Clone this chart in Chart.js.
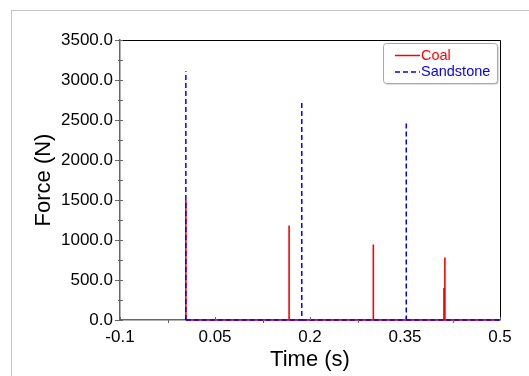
<!DOCTYPE html>
<html>
<head>
<meta charset="utf-8">
<script src="https://cdn.jsdelivr.net/npm/chart.js@4"></script>
<style>
  html, body { margin: 0; padding: 0; background: #fff; overflow: hidden; }
  #wrap { position: relative; width: 529px; height: 376px; }
  #frame { position: absolute; left: 11px; top: 10px; width: 600px; height: 500px;
           border-top: 1px solid #c4c4c4; border-left: 1px solid #c4c4c4; pointer-events: none; }
  canvas { position: absolute; left: 0; top: 0; }
</style>
</head>
<body>
<div id="wrap">
  <canvas id="forceChart" width="529" height="376"></canvas>
  <div id="frame"></div>
</div>
<script>
// impact times (s) and peak forces (N) for each specimen
const coalTimes = [0.004, 0.167, 0.300, 0.4115, 0.413];
const coalPeaks = [1500, 1180, 945, 400, 780];
const sandTimes = [0.004, 0.187, 0.352];
const sandPeaks = [3110, 2720, 2455];

const xTicks = [-0.1, 0.05, 0.2, 0.35, 0.5];
const yTicks = [0, 500, 1000, 1500, 2000, 2500, 3000, 3500];
const tEnd = 0.5;

const FONT = "'Liberation Sans', Arial, sans-serif";

// each impact is a vertical stroke rising from the zero baseline;
// a gap after the peak lets the baseline restart without retracing the stroke
function spikes(times, peaks) {
    const pts = [];
    times.forEach((t, i) => {
        pts.push({ x: t, y: 0 }, { x: t, y: peaks[i] }, { x: t, y: null }, { x: t, y: 0 });
    });
    pts.push({ x: tEnd, y: 0 });
    return pts;
}

// minor/major tick marks, plot frame and the boxed legend
const decor = {
    id: 'decor',
    afterDraw(chart) {
        const { ctx, chartArea: a, scales: { x, y } } = chart;
        ctx.save();
        ctx.strokeStyle = '#000';
        ctx.lineWidth = 1;
        ctx.beginPath();
        ctx.moveTo(a.left, a.top + 0.5); ctx.lineTo(a.right + 0.5, a.top + 0.5);
        ctx.lineTo(a.right + 0.5, a.bottom);
        ctx.stroke();

        ctx.strokeStyle = '#666';
        ctx.beginPath();
        yTicks.forEach((v, i) => {
            const py = Math.round(y.getPixelForValue(v)) + 0.5;
            ctx.moveTo(a.left - 5, py); ctx.lineTo(a.left + 3, py);
            if (i < yTicks.length - 1) {
                const my = Math.round(y.getPixelForValue(v + 250)) + 0.5;
                ctx.moveTo(a.left - 2, my); ctx.lineTo(a.left + 3, my);
            }
        });
        xTicks.forEach((v, i) => {
            const px = Math.round(x.getPixelForValue(v)) + 0.5;
            ctx.moveTo(px, a.bottom - 3); ctx.lineTo(px, a.bottom);
            if (i < xTicks.length - 1) {
                const mx = Math.round(x.getPixelForValue(v + 0.075)) + 0.5;
                ctx.moveTo(mx, a.bottom); ctx.lineTo(mx, a.bottom + 3);
            }
        });
        ctx.stroke();

        // legend box
        const bx = 383.5, by = 43.5, bw = 114, bh = 40;
        ctx.shadowColor = 'rgba(0,0,0,0.25)';
        ctx.shadowOffsetX = 1; ctx.shadowOffsetY = 1; ctx.shadowBlur = 1;
        ctx.fillStyle = '#fff';
        ctx.beginPath();
        ctx.roundRect(bx, by, bw, bh, 3);
        ctx.fill();
        ctx.shadowColor = 'transparent';
        ctx.strokeStyle = '#a8a8a8';
        ctx.stroke();

        const entries = [chart.data.datasets[1], chart.data.datasets[0]];
        entries.forEach((ds, i) => {
            const ly = 55.5 + i * 16.5;
            ctx.strokeStyle = ds.borderColor;
            ctx.lineWidth = 1.5;
            ctx.setLineDash(ds.borderDash || []);
            ctx.beginPath();
            ctx.moveTo(395, ly); ctx.lineTo(420, ly);
            ctx.stroke();
            ctx.setLineDash([]);
            ctx.fillStyle = ds.borderColor;
            ctx.font = '14.5px ' + FONT;
            ctx.textBaseline = 'middle';
            ctx.fillText(ds.label, 421, ly);
        });
        ctx.restore();
    }
};

new Chart(document.getElementById('forceChart'), {
    type: 'scatter',
    data: {
        datasets: [
            {
                label: 'Sandstone',
                data: spikes(sandTimes, sandPeaks),
                showLine: true,
                spanGaps: false,
                clip: false,
                borderColor: '#0000ff',
                borderWidth: 1.5,
                borderDash: [5, 3],
                pointRadius: 0,
                order: 0
            },
            {
                label: 'Coal',
                data: spikes(coalTimes, coalPeaks),
                showLine: true,
                spanGaps: false,
                clip: false,
                borderColor: '#ff0000',
                borderWidth: 1.6,
                pointRadius: 0,
                order: 1
            }
        ]
    },
    options: {
        responsive: false,
        animation: false,
        devicePixelRatio: 1,
        layout: { padding: { top: 40, right: 29, left: 0, bottom: 0 } },
        plugins: { legend: { display: false }, tooltip: { enabled: false } },
        scales: {
            x: {
                type: 'linear',
                min: -0.1,
                max: 0.5,
                afterBuildTicks: (scale) => { scale.ticks = xTicks.map(v => ({ value: v })); },
                afterFit: (scale) => { scale.height = 56; },
                ticks: {
                    autoSkip: false,
                    maxRotation: 0,
                    padding: 7,
                    color: '#000',
                    font: { family: FONT, size: 17 },
                    callback: (v) => String(v)
                },
                grid: { drawOnChartArea: false, drawTicks: false },
                border: { color: '#666', width: 1.5 },
                title: {
                    display: true,
                    text: 'Time (s)',
                    color: '#000',
                    font: { family: FONT, size: 22 },
                    padding: { top: 0, bottom: 3 }
                }
            },
            y: {
                min: 0,
                max: 3500,
                afterBuildTicks: (scale) => { scale.ticks = yTicks.map(v => ({ value: v })); },
                afterFit: (scale) => { scale.width = 120; },
                ticks: {
                    padding: 7,
                    color: '#000',
                    font: { family: FONT, size: 17 },
                    callback: (v) => v.toFixed(1)
                },
                grid: { drawOnChartArea: false, drawTicks: false },
                border: { color: '#666', width: 1.5 },
                title: {
                    display: true,
                    text: 'Force (N)',
                    color: '#000',
                    font: { family: FONT, size: 22 },
                    padding: { top: 31, bottom: 0 }
                }
            }
        }
    },
    plugins: [decor]
});
</script>
</body>
</html>
